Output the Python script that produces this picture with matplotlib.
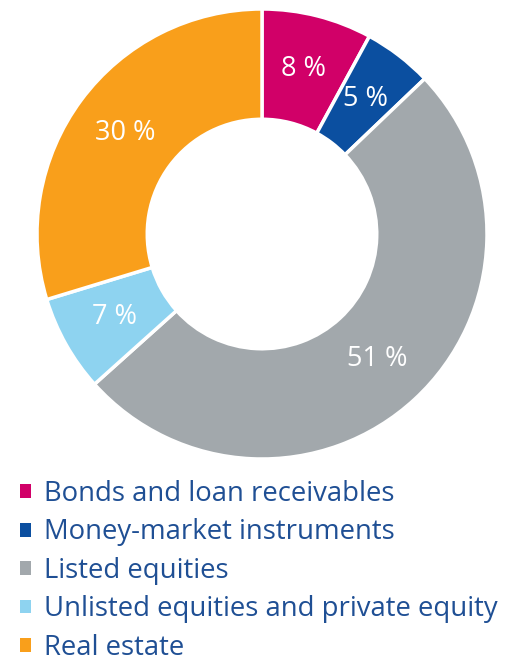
import matplotlib
matplotlib.use("Agg")
import matplotlib.pyplot as plt
import numpy as np

categories = [
    "Bonds and loan receivables",
    "Money-market instruments",
    "Listed equities",
    "Unlisted equities and private equity",
    "Real estate",
]
shares = [8, 5, 51, 7, 30]
colors = ["#d10068", "#0b4fa0", "#a2a8ac", "#8ed3f0", "#f99f1b"]
text_blue = "#1f4f94"

plt.rcParams["font.family"] = ["Open Sans", "DejaVu Sans"]

W, H = 505, 663
fig = plt.figure(figsize=(W / 100, H / 100), dpi=100)

# donut: centre (262, 234) px, outer radius 225 px
cx, cy, r = 262, 234, 225
ax = fig.add_axes([(cx - r) / W, (H - cy - r) / H, 2 * r / W, 2 * r / H])
wedges, _ = ax.pie(
    shares,
    colors=colors,
    startangle=90,
    counterclock=False,
    radius=1.0,
    wedgeprops=dict(width=0.49, edgecolor="white", linewidth=2.5),
)
ax.set_xlim(-1, 1)
ax.set_ylim(-1, 1)
ax.set_aspect("equal")
ax.axis("off")

# percentage labels at the middle of each ring segment
total = sum(shares)
start = 90.0
mid_r = 1 - 0.49 / 2
for v in shares:
    sweep = 360.0 * v / total
    mid = np.deg2rad(start - sweep / 2)
    ax.text(mid_r * np.cos(mid), mid_r * np.sin(mid), f"{v} %",
            ha="center", va="center", color="white", fontsize=19.5)
    start -= sweep

leg = fig.legend(
    wedges, categories,
    loc="upper left",
    bbox_to_anchor=(9 / W, 1 - 469 / H),
    frameon=False,
    fontsize=19.8,
    handlelength=0.4,
    handleheight=0.4,
    handletextpad=0.47,
    labelspacing=0.38,
    borderaxespad=0,
)
for t in leg.get_texts():
    t.set_color(text_blue)
for h in leg.legend_handles:
    h.set_edgecolor("none")

fig.savefig("out.png", dpi=100)
